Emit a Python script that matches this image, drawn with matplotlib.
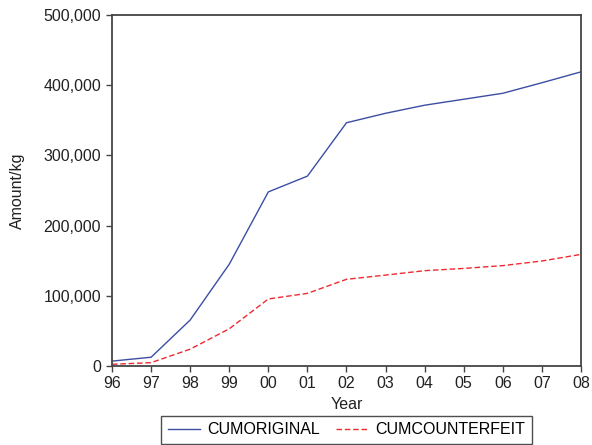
import matplotlib
matplotlib.use("Agg")
import matplotlib.pyplot as plt
from matplotlib.ticker import FuncFormatter

years = ["96", "97", "98", "99", "00", "01", "02", "03", "04", "05", "06", "07", "08"]
cum_original = [7000, 12500, 65500, 145000, 248000, 270500, 346500, 360000,
                371500, 380000, 388500, 403500, 419000]
cum_counterfeit = [2400, 4800, 24000, 53000, 95500, 103500, 123500, 129500,
                   135800, 139000, 143000, 149600, 159000]

plt.rcParams['font.family'] = ['Liberation Sans', 'DejaVu Sans']
plt.rcParams['font.size'] = 11.5

fig = plt.figure(figsize=(5.92, 4.45), dpi=100)
ax = fig.add_axes([0.1892, 0.1775, 0.7922, 0.7888])

x = list(range(len(years)))
ax.plot(x, cum_original, color='#3b4ea3', lw=1.0, label='CUMORIGINAL')
ax.plot(x, cum_counterfeit, color='#ee2a2f', lw=1.0, ls=(0, (4, 2)),
        label='CUMCOUNTERFEIT')

ax.set_xlim(0, len(years) - 1)
ax.set_ylim(0, 500000)
ax.set_xticks(x)
ax.set_xticklabels(years)
ax.set_yticks(range(0, 500001, 100000))
ax.yaxis.set_major_formatter(FuncFormatter(lambda v, p: f"{int(v):,}"))

for s in ax.spines.values():
    s.set_color('#444444')
    s.set_linewidth(1.3)
ax.tick_params(direction='out', length=4.5, width=1.0, color='#444444',
               labelcolor='#222222', pad=3.5)
ax.tick_params(axis='x', pad=3)

ax.set_xlabel('Year', labelpad=4, color='#222222')
ax.set_ylabel('Amount/kg', labelpad=13, color='#222222')

leg = ax.legend(loc='upper center', bbox_to_anchor=(0.5, -0.1425), ncol=2,
                frameon=True, fancybox=False, borderpad=0.4, borderaxespad=0,
                handlelength=2.05, columnspacing=1.05, handletextpad=0.4)
leg.get_frame().set_edgecolor('#222222')
leg.get_frame().set_linewidth(1.0)

fig.savefig('out.png', dpi=100)
